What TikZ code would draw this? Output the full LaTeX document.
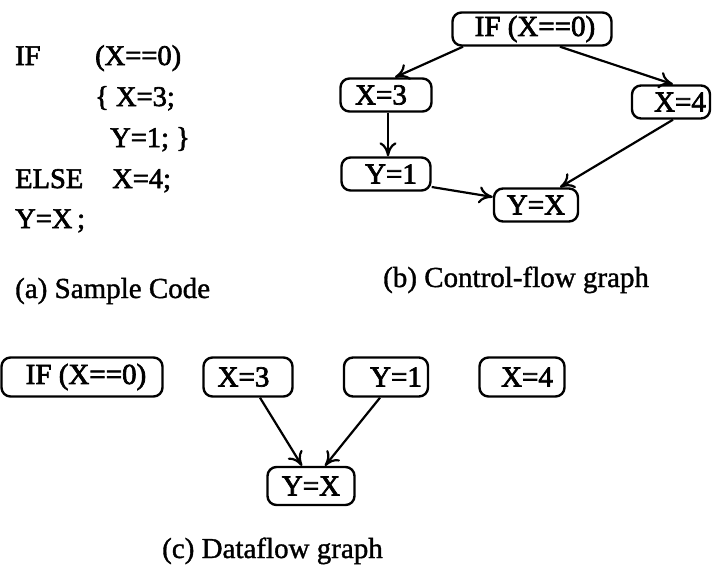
\documentclass[tikz,border=0pt]{standalone}
\usepackage{fontspec}
\usetikzlibrary{arrows.meta}
\newfontfamily\codefont[RawFeature={embolden=2.2}]{Liberation Serif}
\newfontfamily\boxfont[RawFeature={embolden=2.4}]{Liberation Serif}
\newfontfamily\capfont[RawFeature={embolden=1.2}]{Liberation Serif}
\tikzset{
  code/.style={anchor=base west, inner sep=0pt, font=\codefont\fontsize{28.5}{32}\selectfont},
  blk/.style={draw, line width=2.4pt, rounded corners=9pt, inner sep=0pt,
              font=\boxfont\fontsize{29}{32}\selectfont},
  cfg/.style={blk, minimum height=33pt},
  dfg/.style={blk, minimum height=39pt},
  captext/.style={anchor=base west, inner sep=0pt, font=\capfont\fontsize{29}{32}\selectfont},
  flow/.style={line width=2.2pt, -{Computer Modern Rightarrow[length=14pt,width=17pt,line width=2.2pt]}}
}
\begin{document}
\begin{tikzpicture}[x=1pt,y=-1pt]
\path[use as bounding box, fill=white] (0,0) rectangle (712,573);

% (a) sample code
\node[code] (c1a) at (15,65)  {IF};
\node[code] (c1b) at (95,65)  {(X==0)};
\node[code] (c2)  at (95,106) {\{ X=3;};
\node[code] (c3)  at (110,147) {Y=1;\ \}};
\node[code] (c4a) at (15,188) {ELSE};
\node[code] (c4b) at (112,188) {X=4;};
\node[code] (c5)  at (15,228) {Y=X\,;};
\node[captext] (capa) at (15,298) {(a) Sample Code};

% (b) control-flow graph
\node[cfg, minimum width=159pt] (if) at (532,29)  {\hspace*{6pt}IF (X==0)};
\node[cfg, minimum width=91pt]  (x3) at (386,95)  {X=3\hspace*{10pt}};
\node[cfg, minimum width=78pt]  (x4) at (671,102) {\hspace*{18pt}X=4};
\node[cfg, minimum width=89pt]  (y1) at (386,174) {\hspace*{10pt}Y=1};
\node[cfg, minimum width=84pt]  (yx) at (536,205) {Y=X};
\node[captext] (capb) at (383,287) {(b) Control-flow graph};

\draw[flow] ([xshift=-69pt]if.south) -- ([xshift=9pt]x3.north);
\draw[flow] ([xshift=28pt]if.south) -- ([xshift=2pt]x4.north);
\draw[flow] ([xshift=2pt]x3.south) -- ([xshift=2pt]y1.north);
\draw[flow] ([yshift=-13pt]y1.east) -- ([yshift=8pt]yx.west);
\draw[flow] ([xshift=2pt]x4.south) -- ([xshift=24pt]yx.north);

% (c) dataflow graph
\node[dfg, minimum width=161pt] (dif) at (82,377)  {\hspace*{8pt}IF (X==0)};
\node[dfg, minimum width=89pt]  (dx3) at (248,377) {X=3\hspace*{9pt}};
\node[dfg, minimum width=84pt]  (dy1) at (386,377) {\hspace*{20pt}Y=1};
\node[dfg, minimum width=85pt]  (dx4) at (522,377) {\hspace*{10pt}X=4};
\node[dfg, minimum width=87pt, minimum height=38pt] (dyx) at (311,486) {Y=X};
\node[captext] (capc) at (162,558) {(c) Dataflow graph};

\draw[flow] ([xshift=12pt]dx3.south) -- ([xshift=-9pt]dyx.north);
\draw[flow] ([xshift=-6pt]dy1.south) -- ([xshift=14pt]dyx.north);
\end{tikzpicture}
\end{document}
